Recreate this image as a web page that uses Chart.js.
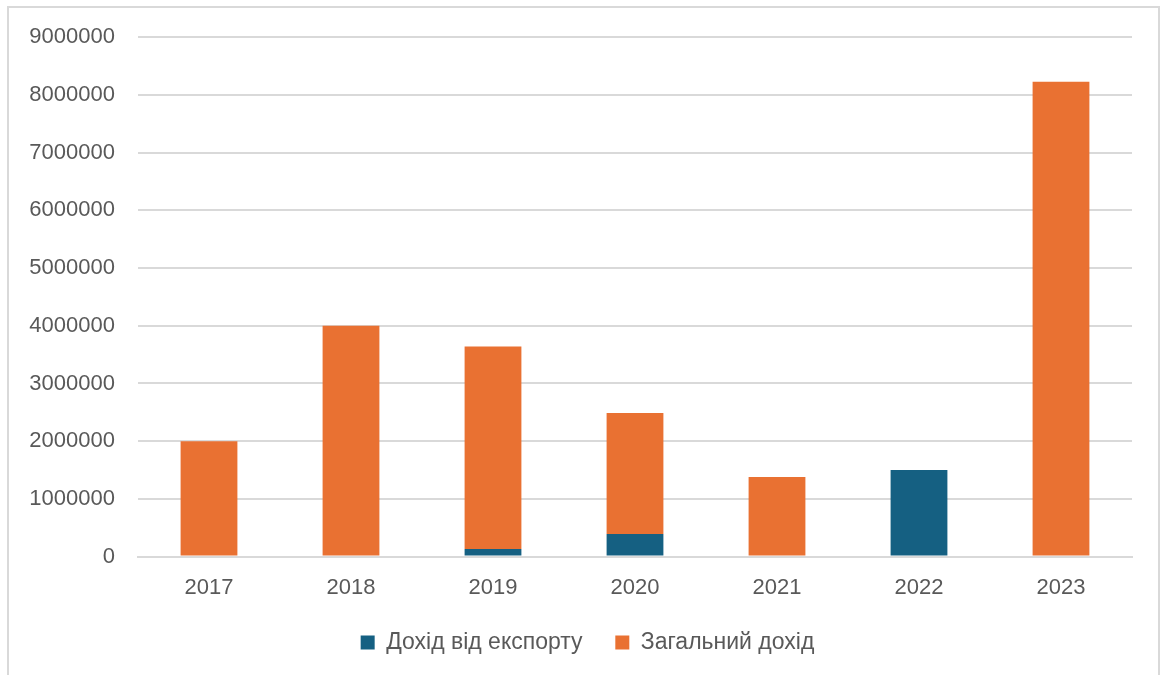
<!DOCTYPE html>
<html>
<head>
<meta charset="utf-8">
<script src="https://cdn.jsdelivr.net/npm/chart.js@4"></script>
<style>
  html, body { margin: 0; padding: 0; background: #fff; overflow: hidden; }
  #frame {
    position: absolute; left: 7px; top: 6px;
    width: 1149px; height: 700px;
    border: 2px solid #d9d9d9; background: #fff;
  }
  canvas { display: block; margin-top: -7px; }
</style>
</head>
<body>
<div id="frame"><canvas id="incomeChart" width="1149" height="674"></canvas></div>
<script>
// Роки
const years = ["2017", "2018", "2019", "2020", "2021", "2022", "2023"];
// Дохід від експорту (нижня частина стовпця)
const exportIncome = [0, 0, 130000, 390000, 0, 1500000, 0];
// Загальний дохід (верхня частина стовпця)
const totalIncome = [2000000, 4000000, 3510000, 2100000, 1380000, 0, 8230000];

const blue = "#156082";
const orange = "#E97132";
const textColor = "#595959";
const fontFamily = "'Liberation Sans', Arial, sans-serif";

Chart.defaults.font.family = fontFamily;
Chart.defaults.color = textColor;

const defaultLabels = Chart.defaults.plugins.legend.labels.generateLabels;

// Legende etwas nach rechts schieben (wie im Original)
const legendShift = {
  id: "legendShift",
  afterLayout(chart) {
    chart.legend.left += 17;
    chart.legend.right += 17;
  },
};

const config = {
  type: "bar",
  data: {
    labels: years,
    datasets: [
      {
        label: "Дохід від експорту",
        data: exportIncome,
        backgroundColor: blue,
        barPercentage: 0.4,
        categoryPercentage: 1,
      },
      {
        label: "Загальний дохід",
        data: totalIncome,
        backgroundColor: orange,
        barPercentage: 0.4,
        categoryPercentage: 1,
      },
    ],
  },
  plugins: [legendShift],
  options: {
    responsive: false,
    animation: false,
    layout: {
      padding: { top: 3, right: 26, bottom: 11, left: 0 },
    },
    plugins: {
      tooltip: { enabled: false },
      title: { display: false },
      legend: {
        position: "bottom",
        labels: {
          boxWidth: 14,
          boxHeight: 14,
          padding: 20,
          color: textColor,
          font: { size: 23 },
          generateLabels: (chart) =>
            defaultLabels(chart).map((item, i) => {
              if (i === 0) item.text = item.text + "\u00A0\u00A0";
              return item;
            }),
        },
      },
    },
    scales: {
      x: {
        stacked: true,
        grid: { display: false },
        border: { color: "#d9d9d9", width: 2 },
        ticks: {
          padding: 10,
          color: textColor,
          font: { size: 22 },
        },
      },
      y: {
        stacked: true,
        min: 0,
        max: 9000000,
        afterFit: (scale) => {
          scale.width = 129;
        },
        grid: {
          color: "#d9d9d9",
          lineWidth: 2,
          drawTicks: false,
        },
        border: { display: false },
        ticks: {
          stepSize: 1000000,
          padding: 23,
          color: textColor,
          font: { size: 22 },
          callback: (value) => value,
        },
      },
    },
  },
};

const ctx = document.getElementById("incomeChart").getContext("2d");
const myChart = new Chart(ctx, config);
</script>
</body>
</html>
